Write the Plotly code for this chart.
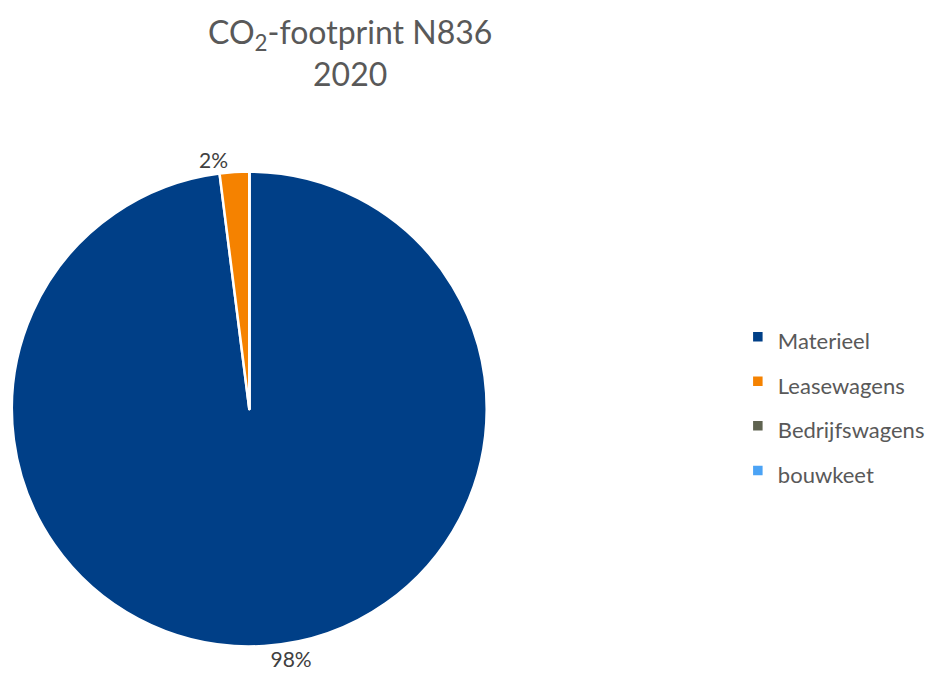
import plotly.graph_objects as go

labels = ["Materieel", "Leasewagens", "Bedrijfswagens", "bouwkeet"]
values = [98.0, 2.0, 0.0, 0.0]
colors = ["#003F87", "#F58200", "#5F6350", "#4BA3F5"]

total = sum(values)
texts = [f"{round(v / total * 100)}%" if v > 0 else "" for v in values]
legend_labels = [f'<span style="font-size:22px">{l}</span>' for l in labels]

fig = go.Figure(
    go.Pie(
        labels=legend_labels,
        values=values,
        text=texts,
        textinfo="text",
        textposition="outside",
        sort=False,
        direction="clockwise",
        rotation=0,
        marker=dict(colors=colors, line=dict(color="white", width=2.5)),
        outsidetextfont=dict(family="Lato", size=21, color="#404040"),
        hoverinfo="label+percent",
        domain=dict(x=[12 / 930, 492 / 930], y=[(688 - 649) / 688, (688 - 169) / 688]),
        showlegend=True,
    )
)

fig.update_layout(
    width=930,
    height=688,
    margin=dict(l=0, r=0, t=0, b=0),
    paper_bgcolor="white",
    plot_bgcolor="white",
    font=dict(family="Lato", color="#595959"),
    title=dict(
        text="CO<sub>2</sub>-footprint N836<br>2020",
        x=354 / 930,
        xanchor="center",
        xref="paper",
        y=0.936,
        yanchor="top",
        font=dict(family="Lato", size=32, color="#595959"),
    ),
    legend=dict(
        x=0.802,
        xanchor="left",
        y=0.413,
        yanchor="middle",
        font=dict(family="Lato", size=32, color="#595959"),
        bgcolor="rgba(0,0,0,0)",
    ),
)

fig.write_html("out.html")
